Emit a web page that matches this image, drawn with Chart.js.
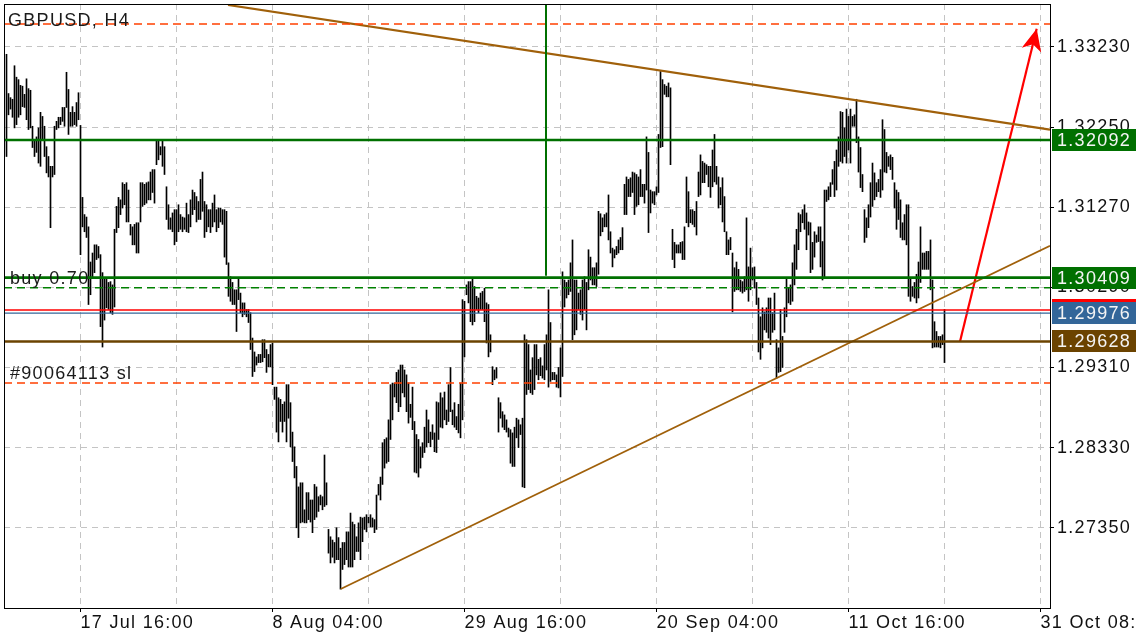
<!DOCTYPE html>
<html><head><meta charset="utf-8">
<script src="https://cdn.jsdelivr.net/npm/chart.js@4.4.1/dist/chart.umd.min.js"></script>
<style>html,body{margin:0;padding:0;background:#fff;overflow:hidden}</style>
</head><body>
<canvas id="c" width="1136" height="640"></canvas>
<script>
// ---- data (H4 bars, high/low) ----
const highs = [
1.3314,1.3266,1.3261,1.3259,1.3300,1.3286,1.3283,1.3276,1.3275,1.3265,
1.3284,1.3272,1.3270,1.3226,1.3210,1.3213,1.3224,1.3243,1.3238,1.3226,
1.3201,1.3189,1.3177,1.3177,1.3226,1.3232,1.3237,1.3237,1.3249,1.3249,
1.3292,1.3271,1.3243,1.3250,1.3243,1.3255,1.3267,1.3227,1.3139,1.3118,
1.3115,1.3103,1.3060,1.3071,1.3081,1.3081,1.3079,1.3069,1.3047,1.3041,
1.3041,1.3035,1.3036,1.3032,1.3100,1.3128,1.3139,1.3136,1.3157,1.3155,
1.3157,1.3148,1.3106,1.3103,1.3106,1.3108,1.3108,1.3157,1.3157,1.3155,
1.3157,1.3158,1.3170,1.3173,1.3173,1.3210,1.3210,1.3201,1.3210,1.3201,
1.3152,1.3130,1.3114,1.3120,1.3124,1.3124,1.3130,1.3118,1.3115,1.3114,
1.3132,1.3118,1.3136,1.3148,1.3145,1.3140,1.3134,1.3161,1.3170,1.3134,
1.3130,1.3124,1.3124,1.3132,1.3142,1.3124,1.3126,1.3126,1.3124,1.3124,
1.3122,1.3059,1.3042,1.3035,1.3026,1.3026,1.3041,1.3022,1.3010,1.3010,
1.3002,1.3002,1.2998,1.2967,1.2950,1.2944,1.2947,1.2947,1.2965,1.2965,
1.2953,1.2947,1.2959,1.2961,1.2907,1.2907,1.2894,1.2892,1.2886,1.2889,
1.2910,1.2910,1.2888,1.2852,1.2834,1.2810,1.2785,1.2790,1.2790,1.2757,
1.2778,1.2778,1.2769,1.2769,1.2788,1.2785,1.2773,1.2775,1.2773,1.2824,
1.2790,1.2733,1.2724,1.2720,1.2717,1.2735,1.2723,1.2710,1.2717,1.2717,
1.2730,1.2730,1.2753,1.2742,1.2739,1.2724,1.2741,1.2748,1.2747,1.2748,
1.2751,1.2748,1.2751,1.2747,1.2745,1.2775,1.2788,1.2797,1.2839,1.2843,
1.2845,1.2867,1.2910,1.2912,1.2912,1.2925,1.2928,1.2934,1.2934,1.2928,
1.2922,1.2912,1.2886,1.2907,1.2865,1.2849,1.2843,1.2834,1.2839,1.2858,
1.2879,1.2867,1.2852,1.2861,1.2851,1.2889,1.2888,1.2900,1.2894,1.2901,
1.2879,1.2910,1.2931,1.2879,1.2888,1.2871,1.2886,1.2912,1.3014,1.3012,
1.3032,1.3036,1.3036,1.3041,1.3030,1.3018,1.3016,1.3022,1.3024,1.3028,
1.3010,1.3008,1.2971,1.2932,1.2928,1.2931,1.2894,1.2888,1.2877,1.2873,
1.2867,1.2857,1.2855,1.2851,1.2858,1.2869,1.2867,1.2861,1.2869,1.2971,
1.2965,1.2959,1.2928,1.2943,1.2959,1.2959,1.2941,1.2943,1.2933,1.2959,
1.2971,1.3026,1.2986,1.2925,1.2925,1.2922,1.2931,1.2955,1.3048,1.3038,
1.3035,1.3038,1.3059,1.3087,1.3038,1.3038,1.3022,1.3026,1.3038,1.3042,
1.3035,1.3075,1.3066,1.3053,1.3053,1.3059,1.3122,1.3119,1.3114,1.3118,
1.3120,1.3142,1.3097,1.3077,1.3075,1.3079,1.3087,1.3090,1.3102,1.3155,
1.3164,1.3161,1.3163,1.3170,1.3169,1.3167,1.3164,1.3173,1.3155,1.3155,
1.3213,1.3194,1.3148,1.3146,1.3146,1.3152,1.3216,1.3293,1.3283,1.3277,
1.3275,1.3279,1.3273,1.3100,1.3084,1.3081,1.3081,1.3084,1.3085,1.3103,
1.3164,1.3146,1.3124,1.3124,1.3122,1.3134,1.3170,1.3191,1.3183,1.3181,
1.3179,1.3177,1.3177,1.3197,1.3216,1.3177,1.3164,1.3151,1.3163,1.3140,
1.3097,1.3087,1.3090,1.3071,1.3053,1.3060,1.3051,1.3038,1.3036,1.3042,
1.3114,1.3054,1.3077,1.3053,1.3054,1.3035,1.3016,1.2993,1.3004,1.2999,
1.3004,1.3016,1.3016,1.2998,1.3022,1.2965,1.2955,1.3002,1.2969,1.3004,
1.3041,1.3028,1.3032,1.3059,1.3081,1.3100,1.3120,1.3118,1.3124,1.3130,
1.3120,1.3109,1.3108,1.3084,1.3097,1.3093,1.3103,1.3103,1.3085,1.3148,
1.3148,1.3152,1.3157,1.3173,1.3183,1.3197,1.3213,1.3244,1.3243,1.3224,
1.3247,1.3238,1.3247,1.3238,1.3240,1.3259,1.3213,1.3200,1.3167,1.3124,
1.3114,1.3130,1.3157,1.3181,1.3169,1.3157,1.3161,1.3173,1.3234,1.3222,
1.3194,1.3189,1.3191,1.3188,1.3157,1.3148,1.3145,1.3136,1.3108,1.3118,
1.3130,1.3130,1.3041,1.3030,1.3035,1.3045,1.3060,1.3103,1.3071,1.3071,
1.3073,1.3073,1.3087,1.3038,1.2987,1.2975,1.2969,1.2969,1.2971,1.3002
];
const lows = [
1.3189,1.3240,1.3247,1.3237,1.3224,1.3228,1.3237,1.3240,1.3250,1.3249,
1.3234,1.3222,1.3224,1.3200,1.3189,1.3194,1.3181,1.3177,1.3210,1.3189,
1.3169,1.3164,1.3102,1.3164,1.3167,1.3222,1.3224,1.3228,1.3232,1.3226,
1.3249,1.3216,1.3226,1.3226,1.3228,1.3226,1.3234,1.3069,1.3103,1.3097,
1.3090,1.3008,1.3020,1.3042,1.3047,1.3063,1.3065,1.2981,1.2956,1.2989,
1.3004,1.3002,1.2998,1.2996,1.3005,1.3096,1.3102,1.3118,1.3126,1.3130,
1.3109,1.3109,1.3093,1.3081,1.3081,1.3071,1.3071,1.3109,1.3128,1.3130,
1.3132,1.3136,1.3136,1.3145,1.3132,1.3179,1.3185,1.3191,1.3177,1.3167,
1.3112,1.3100,1.3100,1.3097,1.3081,1.3085,1.3097,1.3100,1.3097,1.3100,
1.3097,1.3096,1.3103,1.3118,1.3124,1.3109,1.3112,1.3112,1.3122,1.3090,
1.3097,1.3103,1.3096,1.3103,1.3109,1.3097,1.3102,1.3109,1.3106,1.3066,
1.3057,1.3018,1.3012,1.3008,1.3008,1.2975,1.3014,1.2998,1.2993,1.2996,
1.2993,1.2986,1.2953,1.2920,1.2926,1.2934,1.2937,1.2937,1.2938,1.2943,
1.2925,1.2932,1.2932,1.2910,1.2892,1.2852,1.2840,1.2865,1.2852,1.2865,
1.2840,1.2869,1.2834,1.2816,1.2796,1.2735,1.2723,1.2741,1.2742,1.2741,
1.2741,1.2745,1.2742,1.2729,1.2745,1.2748,1.2755,1.2763,1.2757,1.2761,
1.2763,1.2704,1.2692,1.2699,1.2692,1.2696,1.2696,1.2660,1.2684,1.2690,
1.2696,1.2687,1.2687,1.2687,1.2696,1.2706,1.2706,1.2696,1.2718,1.2733,
1.2730,1.2741,1.2736,1.2736,1.2729,1.2733,1.2775,1.2769,1.2788,1.2808,
1.2814,1.2816,1.2843,1.2867,1.2895,1.2888,1.2877,1.2883,1.2900,1.2895,
1.2877,1.2863,1.2870,1.2855,1.2803,1.2802,1.2797,1.2808,1.2821,1.2827,
1.2834,1.2839,1.2834,1.2843,1.2828,1.2827,1.2843,1.2858,1.2857,1.2867,
1.2861,1.2865,1.2877,1.2861,1.2858,1.2855,1.2851,1.2845,1.2867,1.2944,
1.3020,1.3010,1.2987,1.2983,1.2987,1.3002,1.2998,1.3002,1.3002,1.2987,
1.2961,1.2944,1.2950,1.2910,1.2916,1.2918,1.2852,1.2869,1.2858,1.2855,
1.2852,1.2846,1.2814,1.2810,1.2810,1.2845,1.2833,1.2849,1.2785,1.2784,
1.2898,1.2904,1.2900,1.2898,1.2904,1.2922,1.2916,1.2921,1.2918,1.2916,
1.2928,1.2907,1.2914,1.2916,1.2916,1.2907,1.2906,1.2895,1.2920,1.3005,
1.3016,1.3020,1.3024,1.2965,1.2971,1.2977,1.3002,1.2996,1.2989,1.3002,
1.2977,1.3026,1.3038,1.3032,1.3032,1.3030,1.3045,1.3092,1.3097,1.3103,
1.3103,1.3087,1.3071,1.3054,1.3065,1.3069,1.3071,1.3075,1.3075,1.3118,
1.3118,1.3140,1.3140,1.3145,1.3118,1.3128,1.3130,1.3140,1.3140,1.3132,
1.3148,1.3096,1.3120,1.3132,1.3130,1.3142,1.3145,1.3200,1.3201,1.3265,
1.3262,1.3262,1.3179,1.3063,1.3053,1.3071,1.3071,1.3071,1.3063,1.3063,
1.3108,1.3103,1.3108,1.3106,1.3103,1.3093,1.3140,1.3142,1.3157,1.3157,
1.3167,1.3152,1.3139,1.3152,1.3158,1.3155,1.3126,1.3130,1.3109,1.3097,
1.3069,1.3069,1.3075,1.2999,1.3024,1.3026,1.3026,1.3024,1.3022,1.3024,
1.3026,1.3012,1.3026,1.3038,1.3028,1.3008,1.2950,1.2941,1.2955,1.2977,
1.2974,1.2967,1.2959,1.2974,1.2977,1.2918,1.2925,1.2926,1.2931,1.2974,
1.2993,1.3010,1.3008,1.3012,1.3032,1.3051,1.3075,1.3097,1.3108,1.3100,
1.3075,1.3093,1.3047,1.3051,1.3066,1.3084,1.3085,1.3054,1.3038,1.3042,
1.3134,1.3136,1.3140,1.3155,1.3140,1.3148,1.3177,1.3183,1.3181,1.3189,
1.3181,1.3197,1.3181,1.3226,1.3226,1.3206,1.3170,1.3151,1.3146,1.3084,
1.3090,1.3102,1.3115,1.3128,1.3136,1.3140,1.3146,1.3139,1.3148,1.3170,
1.3169,1.3177,1.3173,1.3161,1.3126,1.3100,1.3112,1.3090,1.3087,1.3087,
1.3081,1.3018,1.3012,1.3018,1.3016,1.3010,1.3016,1.3035,1.3051,1.3051,
1.3051,1.3051,1.3026,1.2955,1.2956,1.2956,1.2956,1.2955,1.2959,1.2937
];
// time axis: bar index of each grid line, labelled ones and their texts
const gridBars   = [37,85,133,181,229,277,325,373,421,469,517];
const labelBars  = [37,133,229,325,421,517];
const timeLabels = ['17 Jul 16:00','8 Aug 04:00','29 Aug 16:00','20 Sep 04:00','11 Oct 16:00','31 Oct 08:00'];
// price axis ticks
const priceTicks = [1.27350,1.28330,1.29310,1.30290,1.31270,1.32250,1.33230];
// horizontal levels
const tpLevel = 1.33511, slLevel = 1.29120;
const resistLevel = 1.32092, entryLevel = 1.30409, openLevel = 1.30285;
const askLevel = 1.30013, bidLevel = 1.29976, stopLevel = 1.29628;
// trend lines [barIndex, price]
const upperTrend = [[110.75,1.33743],[521.75,1.32218]];
const lowerTrend = [[167.1,1.26601],[521.75,1.30799]];
const vLine = [[269.75,1.3400],[269.75,1.30433]];
const arrowLine = [[476.75,1.29628],[515.1,1.33453]];

const X_MIN = -1.25, X_MAX = 521.75;
const FONT = 'Liberation Sans';
const FSIZE = 18;
const LS = '1.3px';

const bars = highs.map((h,k)=>({x:k, y:[lows[k], h]}));
const hline = (p)=>[{x:X_MIN,y:p},{x:X_MAX,y:p}];
const seg = (a)=>a.map(p=>({x:p[0],y:p[1]}));
const lineDs = (data,color,width,dash)=>({type:'line',data,borderColor:color,borderWidth:width,borderDash:dash||[],pointRadius:0,fill:false,tension:0,order:1});

const overlay = {
  id:'overlay',
  beforeLayout(chart){ chart.ctx.letterSpacing=LS; },
  beforeDraw(chart){ const c=chart.ctx; c.letterSpacing=LS; c.save(); c.fillStyle='#fff'; c.fillRect(0,0,chart.width,chart.height); c.restore(); },
  afterDatasetsDraw(chart){
    const {ctx, chartArea:a, scales:{x,y}} = chart;
    ctx.save();
    ctx.beginPath(); ctx.rect(a.left,a.top,a.right-a.left,a.bottom-a.top); ctx.clip();
    // arrow head
    const x0=x.getPixelForValue(arrowLine[0][0]), y0=y.getPixelForValue(arrowLine[0][1]);
    const x1=x.getPixelForValue(arrowLine[1][0]), y1=y.getPixelForValue(arrowLine[1][1]);
    const dx=x1-x0, dy=y1-y0, L=Math.hypot(dx,dy), ux=dx/L, uy=dy/L, nx=-uy, ny=ux;
    ctx.fillStyle='#ff0000'; ctx.beginPath();
    ctx.moveTo(x1,y1);
    ctx.lineTo(x1-ux*22+nx*10, y1-uy*22+ny*10);
    ctx.lineTo(x1-ux*16, y1-uy*16);
    ctx.lineTo(x1-ux*22-nx*10, y1-uy*22-ny*10);
    ctx.closePath(); ctx.fill();
    // texts
    ctx.letterSpacing=LS;
    ctx.fillStyle='#1a1a1a'; ctx.font=FSIZE+'px "'+FONT+'"'; ctx.textBaseline='alphabetic'; ctx.textAlign='left';
    ctx.fillText('GBPUSD, H4', 8, 26);
    ctx.fillText('buy 0.70', 10, Math.round(y.getPixelForValue(openLevel))-4);
    ctx.fillText('#90064113 sl', 10, Math.round(y.getPixelForValue(slLevel))-4);
    ctx.restore();
    // frame
    ctx.save(); ctx.strokeStyle='#000'; ctx.lineWidth=1;
    ctx.strokeRect(a.left+0.5, a.top+0.5, a.right-a.left, a.bottom-a.top);
    ctx.restore();
  },
  afterDraw(chart){
    const {ctx, chartArea:a, scales:{y}} = chart;
    const boxes = [
      {p:askLevel, c:'#ff0000', t:''},
      {p:bidLevel, c:'#336699', t:bidLevel.toFixed(5)},
      {p:resistLevel, c:'#007000', t:resistLevel.toFixed(5)},
      {p:entryLevel, c:'#007000', t:entryLevel.toFixed(5)},
      {p:stopLevel, c:'#6b4300', t:stopLevel.toFixed(5)}
    ];
    ctx.save();
    ctx.letterSpacing=LS;
    ctx.font=FSIZE+'px "'+FONT+'"'; ctx.textBaseline='middle'; ctx.textAlign='left';
    boxes.forEach(b=>{
      const yy=Math.round(y.getPixelForValue(b.p));
      ctx.fillStyle=b.c; ctx.fillRect(a.right+2, yy-11, 84, 22);
      if(b.t){ ctx.fillStyle='#f4f4f4'; ctx.fillText(b.t, a.right+7, yy+1); }
    });
    ctx.restore();
  }
};

Chart.defaults.font.family = FONT;
new Chart(document.getElementById('c'), {
  type:'bar',
  data:{ datasets:[
    {type:'bar', data:bars, backgroundColor:'#000', borderWidth:0, barThickness:1, grouped:false, order:10},
    lineDs(hline(tpLevel),'#ff4000',1.4,[8,5]),
    lineDs(hline(slLevel),'#ff4000',1.4,[8,5]),
    lineDs(hline(openLevel),'#008000',1.4,[8,5]),
    lineDs(hline(askLevel),'#ff0000',1.3),
    lineDs(hline(bidLevel),'#336699',1.3),
    lineDs(hline(resistLevel),'#007000',2.6),
    lineDs(hline(entryLevel),'#007000',2.6),
    lineDs(hline(stopLevel),'#6b4300',2.6),
    lineDs(seg(vLine),'#007000',2),
    lineDs(seg(upperTrend),'#a0600a',2.2),
    lineDs(seg(lowerTrend),'#a0600a',1.8),
    lineDs(seg(arrowLine),'#ff0000',2.2)
  ]},
  options:{
    responsive:false, animation:false, devicePixelRatio:1, events:[],
    layout:{padding:{left:4,top:4,right:0,bottom:0}},
    plugins:{legend:{display:false}, tooltip:{enabled:false}},
    scales:{
      x:{ type:'linear', min:X_MIN, max:X_MAX, offset:false,
        afterBuildTicks:s=>{ s.ticks = gridBars.map(v=>({value:v})); },
        afterFit:s=>{ s.height=32; s.paddingLeft=0; s.paddingRight=0; },
        ticks:{ autoSkip:false, maxRotation:0, minRotation:0, align:'start', padding:0, color:'#111',
          font:{family:FONT,size:FSIZE},
          callback:(v)=>{ const k=labelBars.indexOf(v); return k>=0 ? timeLabels[k] : ''; } },
        grid:{ color:'#c4c4c4', lineWidth:1, offset:false, drawTicks:true, tickLength:4,
          tickColor:(c)=> (c.tick && labelBars.includes(c.tick.value)) ? '#000' : 'rgba(0,0,0,0)' },
        border:{ display:false, dash:[6,5] }
      },
      y:{ type:'linear', position:'right', min:1.26369, max:1.33755,
        afterBuildTicks:s=>{ s.ticks = priceTicks.map(v=>({value:v})); },
        afterFit:s=>{ s.width=86; s.paddingTop=0; s.paddingBottom=0; },
        ticks:{ padding:3, color:'#111', font:{family:FONT,size:FSIZE}, callback:v=>v.toFixed(5) },
        grid:{ color:'#c4c4c4', lineWidth:1, drawTicks:true, tickLength:4, tickColor:'#000' },
        border:{ display:false, dash:[6,5] }
      }
    }
  },
  plugins:[overlay]
});
</script>
</body></html>
